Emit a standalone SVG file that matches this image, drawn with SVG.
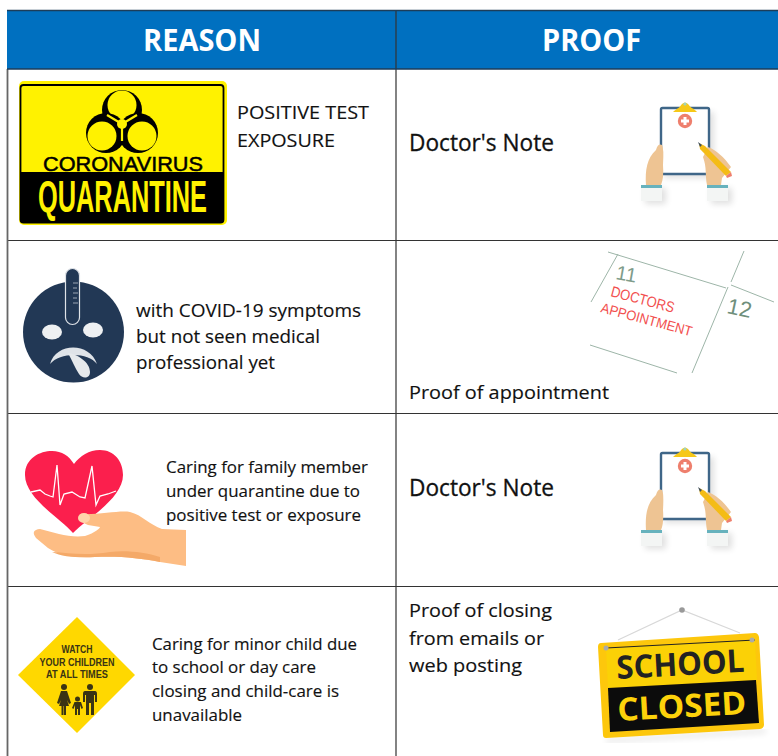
<svg xmlns="http://www.w3.org/2000/svg" width="778" height="756" viewBox="0 0 778 756">
<style>
.t{font-family:"Open Sans","Noto Sans","Liberation Sans",sans-serif;fill:#111;font-size:19px;stroke:#111;stroke-width:.15}
.s{font-size:16.500px}
.h{font-family:"Open Sans","Noto Sans","Liberation Sans",sans-serif;fill:#fff;font-size:31px;font-weight:700}
.dn{font-size:23px;stroke-width:.3}
.ln{stroke:#333;stroke-width:1.200;fill:none}
.a{font-family:"Liberation Sans",Arial,sans-serif;font-weight:700}
.b{font-family:"Open Sans","Noto Sans",sans-serif;font-weight:700}
.cal{stroke:#9db5a8;stroke-width:1;fill:none}
.red{font-family:"Liberation Sans",Arial,sans-serif;fill:#f2504f}
.cn{font-family:"Liberation Sans",Arial,sans-serif;font-weight:700;fill:#3a3414;font-size:11px;text-anchor:middle}
</style>
<defs>
<filter id="soft" x="-20%" y="-20%" width="140%" height="140%"><feGaussianBlur stdDeviation="3"/></filter>
<g id="clip">
<g fill="#000" opacity=".12" filter="url(#soft)"><rect x="664" y="112" width="50" height="66"/><rect x="645" y="188" width="21" height="16"/><rect x="711" y="188" width="21" height="16"/></g>
<rect x="661" y="108" width="48" height="66" rx="1.500" fill="#fff" stroke="#3f6688" stroke-width="2.400"/>
<path d="M673 112C677 108 680 108 681 105Q685 100 689 105C690 108 694 108 697 112Z" fill="#f6c818"/>
<circle cx="685" cy="104" r="1.600" fill="#9fd3c0"/>
<circle cx="685" cy="121" r="7.200" fill="#ee7f6d"/>
<path d="M683.500 117h3v2.500h2.500v3h-2.500v2.500h-3v-2.500h-2.500v-3h2.500z" fill="#fff"/>
<path d="M646 185C645 170 647 158 656 150Q658 143 662 145Q664 148 663 165Q664 178 661 185Z" fill="#eec493"/>
<path d="M707 185C705 175 707 168 703 157L708 147C716 150 724 157 731 167L722 178L721 185Z" fill="#eec493"/>
<path d="M699 143L705 146L731 172L726 176L700 149Z" fill="#f4bc16"/>
<path d="M698 142L702 145L700 147Z" fill="#3f4f60"/>
<path d="M731 172L732 176L727 178L726 176Z" fill="#ee7f6d"/>
<rect x="641" y="185" width="21" height="16" fill="#f3f5f4"/><rect x="641" y="185" width="21" height="3" fill="#67b2bd"/>
<rect x="707" y="185" width="21" height="16" fill="#f3f5f4"/><rect x="707" y="185" width="21" height="3" fill="#67b2bd"/>
</g>
</defs>
<rect width="778" height="756" fill="#fff"/>
<g id="table">
<rect x="7" y="10" width="771" height="59" fill="#0070c0"/>
<path class="ln" d="M396 10V756M7 240.500H778M7 413.500H778M7 586.500H778"/>
<path d="M7.500 69V756" stroke="#666" stroke-width="1.800"/>
<path d="M7 10.500H778M7 69H778" stroke="#1c3d5a" stroke-width="1.300"/>
</g>
<g id="header-reason"><text class="h" x="143" y="51" textLength="118" lengthAdjust="spacingAndGlyphs">REASON</text></g>
<g id="header-proof"><text class="h" x="542" y="51" textLength="99" lengthAdjust="spacingAndGlyphs">PROOF</text></g>

<g id="quarantine-sign">
<rect x="19" y="81" width="208" height="144" rx="5" fill="#fff200"/>
<rect x="20.500" y="85" width="203" height="137.500" rx="3" fill="#fff200" stroke="#000" stroke-width="1.800"/>
<path d="M20 172H224V220Q224 223 221 223H23Q20 223 20 220Z" fill="#000"/>
<g id="biohazard">
<circle cx="122" cy="125" r="17" fill="none" stroke="#000" stroke-width="4"/>
<circle cx="122" cy="110" r="20" fill="#000"/><circle cx="122" cy="105" r="14.500" fill="#fff200"/>
<circle cx="106" cy="133" r="20" fill="#000"/><circle cx="102" cy="136" r="14.500" fill="#fff200"/>
<circle cx="138" cy="133" r="20" fill="#000"/><circle cx="142" cy="136" r="14.500" fill="#fff200"/>
<circle cx="122" cy="124" r="5" fill="#fff200"/>
<path d="M122 124V141M122 124L107 115M122 124L137 115" stroke="#fff200" stroke-width="2.200"/>
</g>
<text class="a" x="43" y="171" font-size="21" fill="#000" stroke="#000" stroke-width=".5" textLength="160" lengthAdjust="spacingAndGlyphs" style="font-weight:400">CORONAVIRUS</text>
<text class="a" x="38" y="212" font-size="44" fill="#fff200" textLength="169" lengthAdjust="spacingAndGlyphs">QUARANTINE</text>
</g>
<g id="reason-1"><text class="t" x="237" y="119" textLength="132" lengthAdjust="spacingAndGlyphs">POSITIVE TEST</text><text class="t" x="237" y="147" textLength="98" lengthAdjust="spacingAndGlyphs">EXPOSURE</text></g>
<g id="proof-1"><text class="t dn" x="409" y="151" textLength="145" lengthAdjust="spacingAndGlyphs">Doctor's Note</text></g>
<g id="clipboard-1"><use href="#clip"/></g>

<g id="sick-face">
<circle cx="73.500" cy="332" r="50.500" fill="#223855"/>
<rect x="65.500" y="268.500" width="14" height="56" rx="7" fill="#223855" stroke="#dfe3e8" stroke-width="1.200"/>
<path d="M73 283H78M73 288H77M73 293H78M73 298H77M73 303H78" stroke="#b9c2cc" stroke-width=".8"/>
<ellipse cx="52" cy="332" rx="10" ry="7.500" fill="#eef0f2"/><ellipse cx="93" cy="330" rx="10" ry="7.500" fill="#eef0f2"/>
<path d="M50 364C56 342 90 342 97 364C88 352 60 352 50 364Z" fill="#dfe3e8"/>
<path d="M68 353C77 354 90 362 90 372C90 379 82 379 79 374C75 368 72 360 68 353Z" fill="#e6e9ec"/>
</g>
<g id="reason-2">
<text class="t" x="136" y="317" textLength="225" lengthAdjust="spacingAndGlyphs">with COVID-19 symptoms</text>
<text class="t" x="136" y="343" textLength="184" lengthAdjust="spacingAndGlyphs">but not seen medical</text>
<text class="t" x="136" y="369" textLength="139" lengthAdjust="spacingAndGlyphs">professional yet</text>
</g>
<g id="proof-2"><text class="t" x="409" y="399" textLength="200" lengthAdjust="spacingAndGlyphs">Proof of appointment</text></g>
<g id="calendar">
<path class="cal" d="M608 252L726 288M731 285L774 302M618 254L591 302M744 251L731 282M728 287L692 373M590 345L677 373"/>
<text x="615" y="279" font-family="Liberation Sans,Arial,sans-serif" font-size="20" fill="#7f9c8b" transform="rotate(10 615 279)">11</text>
<text x="726" y="313" font-family="Liberation Sans,Arial,sans-serif" font-size="22" fill="#6f8f7c" transform="rotate(12 726 313)">12</text>
<text class="red" x="610" y="296" font-size="15" textLength="65" lengthAdjust="spacingAndGlyphs" transform="rotate(15 610 296)">DOCTORS</text>
<text class="red" x="600" y="312" font-size="14" textLength="94" lengthAdjust="spacingAndGlyphs" transform="rotate(15 600 312)">APPOINTMENT</text>
</g>

<g id="heart-hand">
<path d="M73 533C60 518 25 498 25 475C25 458 40 451 52 451C62 451 69 456 74 464C80 456 89 450 100 450C114 450 123 461 123 475C123 498 88 518 73 533Z" fill="#fb1f4d"/>
<path d="M31 492L40 490L45 494L50 496L53 497L57 465L60 505L64 494L72 492L80 497L85 498L92 466L96 505L100 496L108 494L116 491" fill="none" stroke="#fff" stroke-width="1.300"/>
<path d="M186 530V566L160 562C140 558 120 556 95 557C75 558 60 556 48 548L36 538Q30 530 40 529C55 533 70 538 85 536C95 533 100 528 100 527L88 525Q76 520 80 516L80 514C100 515 120 510 130 512C142 515 150 525 162 529Z" fill="#fdbd84"/>
<path d="M52 552C70 553 85 556 110 552C125 550 145 552 160 557V562C140 558 120 556 95 557C80 558 62 557 52 552Z" fill="#f4a968"/>
<ellipse cx="84" cy="518" rx="6" ry="5" fill="#ffd4ab"/>
</g>
<g id="reason-3">
<text class="t s" x="166" y="473" textLength="202" lengthAdjust="spacingAndGlyphs">Caring for family member</text>
<text class="t s" x="166" y="497" textLength="194" lengthAdjust="spacingAndGlyphs">under quarantine due to</text>
<text class="t s" x="166" y="521" textLength="195" lengthAdjust="spacingAndGlyphs">positive test or exposure</text>
</g>
<g id="proof-3"><text class="t dn" x="409" y="496" textLength="145" lengthAdjust="spacingAndGlyphs">Doctor's Note</text></g>
<g id="clipboard-2"><use href="#clip" y="345"/></g>

<g id="watch-sign">
<path d="M77 617L135 675L77 733L18 675Z" fill="#ffd800"/>
<text class="cn" x="77" y="653" textLength="31" lengthAdjust="spacingAndGlyphs">WATCH</text>
<text class="cn" x="77" y="666" textLength="75" lengthAdjust="spacingAndGlyphs">YOUR CHILDREN</text>
<text class="cn" x="77" y="678" textLength="62" lengthAdjust="spacingAndGlyphs">AT ALL TIMES</text>
<g fill="#3a3414">
<circle cx="64" cy="687" r="3"/><path d="M61 691H67L71 703L69 704L67 700L69 706H66V715H64V706H63.500V715H61.500V706H59L61 700L59 704L57 703Z"/>
<circle cx="90" cy="687" r="3"/><path d="M85 691H95Q97 691 97 694V702H95V695H94V715H91V703H89V715H86V695H85V702H83V694Q83 691 85 691Z"/>
<circle cx="77.500" cy="699" r="2.500"/><path d="M74.500 702H81L83 708L81.500 709L80 705V715H78V709H77V715H75V705L73.500 709L72 708Z"/>
</g>
</g>
<g id="reason-4">
<text class="t s" x="152" y="650" textLength="205" lengthAdjust="spacingAndGlyphs">Caring for minor child due</text>
<text class="t s" x="152" y="673" textLength="164" lengthAdjust="spacingAndGlyphs">to school or day care</text>
<text class="t s" x="152" y="697" textLength="187" lengthAdjust="spacingAndGlyphs">closing and child-care is</text>
<text class="t s" x="152" y="721" textLength="90" lengthAdjust="spacingAndGlyphs">unavailable</text>
</g>
<g id="proof-4">
<text class="t" x="409" y="617" textLength="143" lengthAdjust="spacingAndGlyphs">Proof of closing</text>
<text class="t" x="409" y="645" textLength="135" lengthAdjust="spacingAndGlyphs">from emails or</text>
<text class="t" x="409" y="672" textLength="113" lengthAdjust="spacingAndGlyphs">web posting</text>
</g>
<g id="school-closed">
<path d="M618 640L682 610L740 633" fill="none" stroke="#d8d8d8" stroke-width="1.200"/>
<circle cx="682" cy="610" r="2.800" fill="#999"/>
<path d="M606 741L766 731" stroke="#000" stroke-width="4" opacity=".1" filter="url(#soft)"/>
<path d="M601 643L755 633Q758 633 759 637L764 725Q764 728 760 729L606 738Q603 738 603 735L598 647Q598 643 601 643Z" fill="#fdc70c"/>
<path d="M606 648L755 640L757 680L608 688Z" fill="#fbd106"/>
<path d="M608 688L756 680L759 723L610 732Z" fill="#0c0c0c"/>
<path d="M606 648L755 640" stroke="#222" stroke-width="1"/>
<circle cx="606" cy="648" r="2.500" fill="#aaa"/><circle cx="752" cy="640" r="2.500" fill="#aaa"/>
<text class="b" x="617" y="679" font-size="32" fill="#222" textLength="128" lengthAdjust="spacingAndGlyphs" transform="rotate(-3.200 617 679)">SCHOOL</text>
<text class="b" x="618" y="721" font-size="32" fill="#fdd20a" textLength="129" lengthAdjust="spacingAndGlyphs" transform="rotate(-3.200 618 721)">CLOSED</text>
</g>
</svg>
